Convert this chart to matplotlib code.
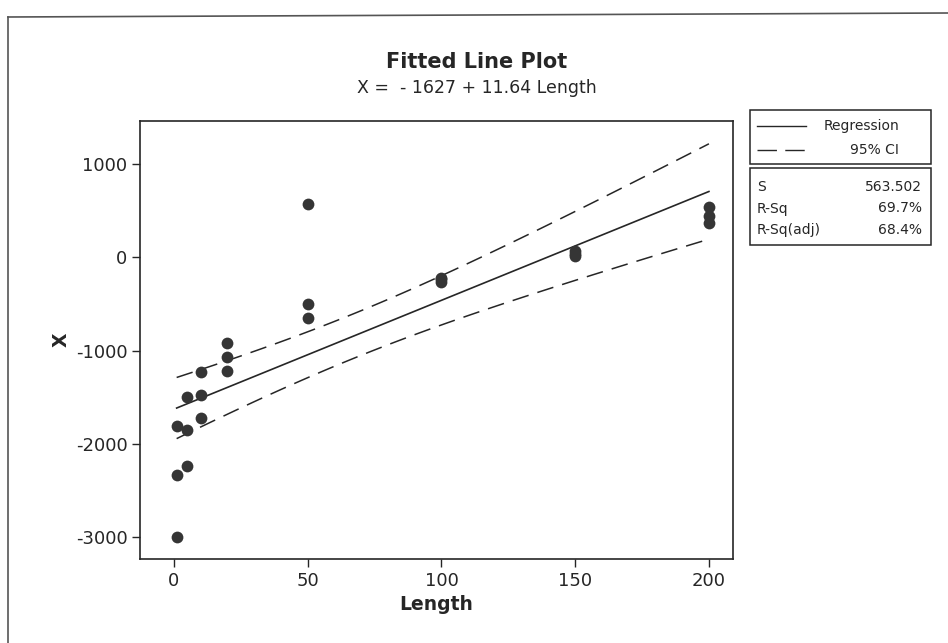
import matplotlib.pyplot as plt
from matplotlib.patches import Rectangle
from matplotlib.lines import Line2D
import numpy as np

plt.rcParams['font.family'] = ['DejaVu Sans']
plt.rcParams['axes.unicode_minus'] = False

# data
length = [1, 1, 1, 5, 5, 5, 10, 10, 10, 20, 20, 20,
          50, 50, 50, 100, 100, 100, 150, 150, 150, 200, 200, 200]
x_val = [-1810, -2330, -3000, -1500, -1850, -2240, -1230, -1480, -1720,
         -920, -1070, -1220, 570, -500, -650, -220, -240, -265,
         60, 35, 15, 530, 440, 360]

# regression summary printed on the chart
intercept = -1627
slope = 11.64
s_val = 563.502
r_sq = "69.7%"
r_sq_adj = "68.4%"
t_crit = 2.074  # t(0.975, n-2=22)

xticks = [0, 50, 100, 150, 200]
yticks = [1000, 0, -1000, -2000, -3000]

# fitted line + 95% CI on the mean
lx = np.array(length, dtype=float)
n = len(lx)
xbar = lx.mean()
sxx = ((lx - xbar) ** 2).sum()
grid = np.linspace(min(length), max(length), 100)
fit = intercept + slope * grid
half = t_crit * s_val * np.sqrt(1.0 / n + (grid - xbar) ** 2 / sxx)

W, H = 948, 643
fig = plt.figure(figsize=(W / 100, H / 100), dpi=100)

def fx(px):
    return px / W

def fy(py):
    return 1 - py / H

ax = fig.add_axes([fx(140), fy(559), fx(733) - fx(140), fy(121) - fy(559)])
ink = '#262626'

ax.plot(grid, fit, color=ink, lw=1.2)
ax.plot(grid, fit + half, color=ink, lw=1.1, dashes=(11, 6))
ax.plot(grid, fit - half, color=ink, lw=1.1, dashes=(11, 6))
ax.scatter(length, x_val, s=72, color='#353535', zorder=3, linewidths=0)

ax.set_xlim(-12.7, 209)
ax.set_ylim(-3230, 1455)
ax.set_xticks(xticks)
ax.set_yticks(yticks)
ax.tick_params(direction='out', length=6, width=1.0, colors=ink,
               labelsize=13, pad=3)
for sp in ax.spines.values():
    sp.set_color(ink)
    sp.set_linewidth(1.2)

ax.set_xlabel('Length', fontsize=13.5, fontweight='bold', color=ink, labelpad=4)
ax.set_ylabel('X', fontsize=13.5, fontweight='bold', color=ink, labelpad=4)

fig.text(fx(477), fy(62), 'Fitted Line Plot', ha='center', va='center',
         fontsize=15, fontweight='bold', color=ink)
fig.text(fx(477), fy(88), 'X =  - 1627 + 11.64 Length', ha='center',
         va='center', fontsize=12.5, color=ink)

# legend boxes
fig.patches.append(Rectangle((fx(750), fy(164)), fx(931) - fx(750),
                             fy(110) - fy(164), transform=fig.transFigure,
                             fill=False, edgecolor=ink, lw=1.1))
fig.patches.append(Rectangle((fx(750), fy(245)), fx(931) - fx(750),
                             fy(168) - fy(245), transform=fig.transFigure,
                             fill=False, edgecolor=ink, lw=1.1))
fig.lines.append(Line2D([fx(757), fx(806)], [fy(126), fy(126)],
                        transform=fig.transFigure, color=ink, lw=1.0))
fig.lines.append(Line2D([fx(757), fx(806)], [fy(150), fy(150)],
                        transform=fig.transFigure, color=ink, lw=1.0,
                        dashes=(14, 6)))
fig.text(fx(899), fy(126), 'Regression', ha='right', va='center',
         fontsize=10, color=ink)
fig.text(fx(899), fy(150), '95% CI', ha='right', va='center',
         fontsize=10, color=ink)

stats = [('S', f'{s_val:.3f}'), ('R-Sq', r_sq), ('R-Sq(adj)', r_sq_adj)]
for i, (lab, val) in enumerate(stats):
    yy = fy(187 + 21.5 * i)
    fig.text(fx(757), yy, lab, ha='left', va='center', fontsize=10, color=ink)
    fig.text(fx(922), yy, val, ha='right', va='center', fontsize=10, color=ink)

# outer frame of the scanned page
frame = '#555555'
fig.lines.append(Line2D([fx(8), fx(948)], [fy(17), fy(13)],
                        transform=fig.transFigure, color=frame, lw=1.2))
fig.lines.append(Line2D([fx(8), fx(8)], [fy(17), fy(643)],
                        transform=fig.transFigure, color=frame, lw=1.2))

fig.savefig('out.png', dpi=100)
